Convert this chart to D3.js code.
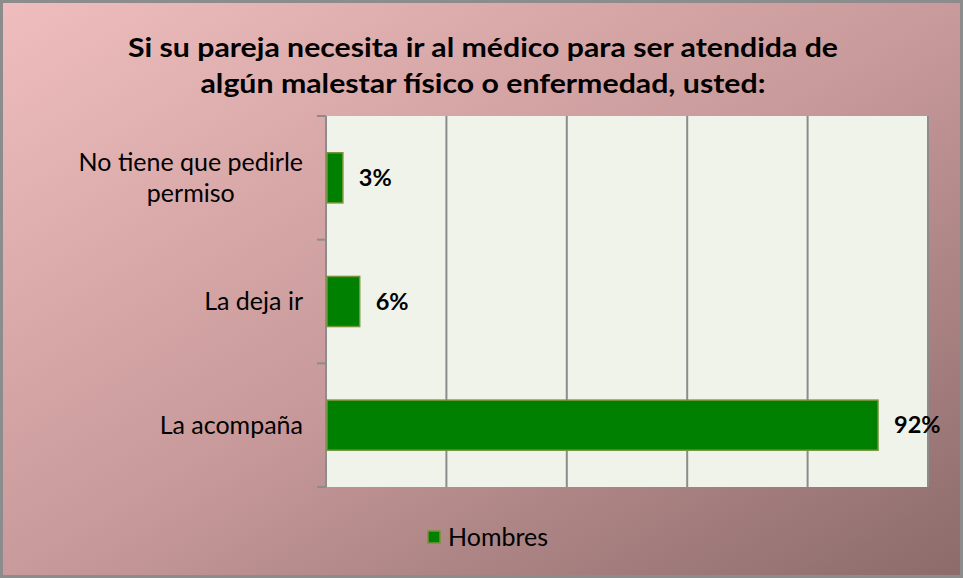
<!DOCTYPE html>
<html>
<head>
  <meta charset="UTF-8">
  <title>Si su pareja necesita ir al médico</title>
  <script src="https://d3js.org/d3.v7.min.js"></script>
  <style>
    body { margin: 0; }
    svg { display: block; }
    text { font-family: Lato, "Open Sans", sans-serif; fill: #000; }
  </style>
</head>
<body>
  <svg></svg>
</body>
<script>
  let width = 963,
    height = 578;

  // data
  let categories = ["No tiene que pedirle permiso", "La deja ir", "La acompaña"];
  let catLines = [["No tiene que pedirle", "permiso"], ["La deja ir"], ["La acompaña"]];
  let values = [2.8, 5.6, 91.7];
  let xTicks = [0, 20, 40, 60, 80, 100];
  let seriesName = "Hombres";
  let titleLines = ["Si su pareja necesita ir al médico para ser atendida de",
    "algún malestar físico o enfermedad, usted:"];

  let svg = d3.select("svg")
    .attr("width", width)
    .attr("height", height);

  // background gradient
  let defs = svg.append("defs");
  let grad = defs.append("linearGradient")
    .attr("id", "bg")
    .attr("x1", "0%").attr("y1", "0%")
    .attr("x2", "100%").attr("y2", "100%");
  grad.append("stop").attr("offset", "0%").attr("stop-color", "#efbdbd");
  grad.append("stop").attr("offset", "50%").attr("stop-color", "#c99a9b");
  grad.append("stop").attr("offset", "100%").attr("stop-color", "#8c6b6b");

  svg.append("rect")
    .attr("x", 1.5).attr("y", 1.5)
    .attr("width", width - 3).attr("height", height - 3)
    .attr("fill", "url(#bg)")
    .attr("stroke", "#8c8c8c")
    .attr("stroke-width", 3);

  let margin = { left: 326, right: 35, top: 116, bottom: 91 };
  let pw = width - margin.left - margin.right,
    ph = height - margin.top - margin.bottom;

  let g = svg.append("g").attr("transform", "translate(" + margin.left + "," + margin.top + ")");

  let x = d3.scaleLinear().domain([0, 100]).range([0, pw]);
  let y = d3.scaleBand().domain(categories).range([0, ph])
    .paddingInner(0.595).paddingOuter(0.2975);

  // plot area
  g.append("rect")
    .attr("width", pw).attr("height", ph)
    .attr("fill", "#f0f3ea");

  // vertical gridlines
  g.append("g")
    .selectAll("line")
    .data(xTicks.slice(1))
    .enter()
    .append("line")
    .attr("x1", d => x(d)).attr("x2", d => x(d))
    .attr("y1", 0).attr("y2", ph)
    .attr("stroke", "#8c8c8c")
    .attr("stroke-width", 2);

  // left axis, ticks sit between categories
  let boundaries = d3.range(categories.length + 1).map(i => (ph / categories.length) * i);
  let axis = g.append("g");
  axis.append("line")
    .attr("x1", 0).attr("x2", 0).attr("y1", 0).attr("y2", ph)
    .attr("stroke", "#8c8c8c").attr("stroke-width", 2);
  axis.selectAll(".tick")
    .data(boundaries)
    .enter()
    .append("line")
    .attr("x1", -9).attr("x2", 0)
    .attr("y1", d => d).attr("y2", d => d)
    .attr("stroke", "#8c8c8c").attr("stroke-width", 2);

  // bars
  g.append("g")
    .selectAll("rect")
    .data(values)
    .enter()
    .append("rect")
    .attr("x", 1)
    .attr("y", (d, i) => y(categories[i]))
    .attr("width", d => x(d) - 1)
    .attr("height", y.bandwidth())
    .attr("fill", "#008000")
    .attr("stroke", "#77933c")
    .attr("stroke-width", 1.5);

  // value labels
  g.append("g")
    .selectAll("text")
    .data(values)
    .enter()
    .append("text")
    .attr("x", d => x(d) + 16)
    .attr("y", (d, i) => y(categories[i]) + y.bandwidth() / 2)
    .attr("dy", "0.35em")
    .attr("font-size", 23.5)
    .attr("font-weight", "bold")
    .text(d => Math.round(d) + "%");

  // category labels
  let catG = g.append("g");
  catLines.forEach((lines, i) => {
    let cy = y(categories[i]) + y.bandwidth() / 2;
    let lh = 31;
    let t = catG.append("text")
      .attr("font-size", 25)
      .attr("text-anchor", "middle");
    lines.forEach((l, j) => {
      t.append("tspan")
        .attr("x", 0)
        .attr("y", cy + (j - (lines.length - 1) / 2) * lh)
        .attr("dy", "0.35em")
        .text(l);
    });
    // right-align the widest line
    let w = t.node().getBBox().width;
    t.selectAll("tspan").attr("x", -23 - w / 2);
  });

  // title
  svg.append("g")
    .selectAll("text")
    .data(titleLines)
    .enter()
    .append("text")
    .attr("x", 483)
    .attr("y", (d, i) => 57 + i * 36)
    .attr("text-anchor", "middle")
    .attr("font-size", 27)
    .attr("font-weight", "bold")
    .attr("textLength", (d, i) => i == 0 ? 710 : 565)
    .attr("lengthAdjust", "spacingAndGlyphs")
    .text(d => d);

  // legend
  let legend = svg.append("g").attr("transform", "translate(428,531)");
  legend.append("rect")
    .attr("width", 12).attr("height", 12)
    .attr("fill", "#008000")
    .attr("stroke", "#77933c")
    .attr("stroke-width", 1.5);
  legend.append("text")
    .attr("x", 20).attr("y", 6)
    .attr("dy", "0.35em")
    .attr("font-size", 25)
    .text(seriesName);
</script>
</html>
